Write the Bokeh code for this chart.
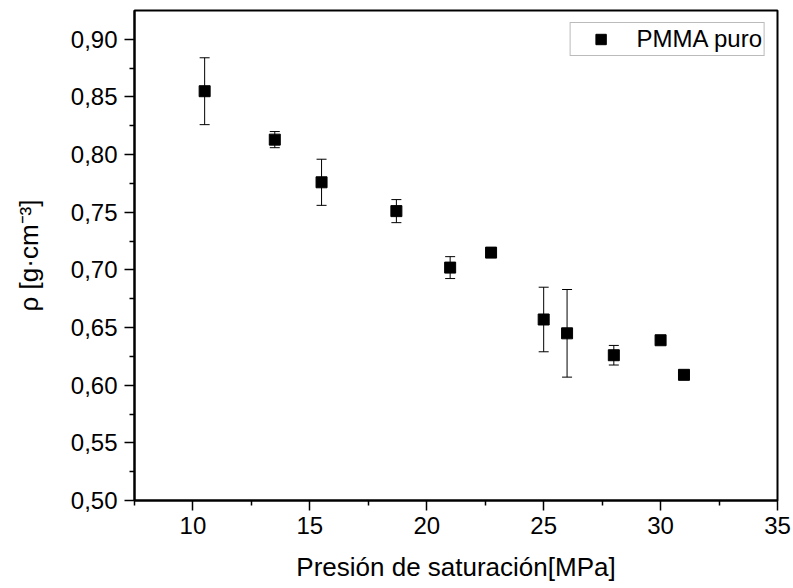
from bokeh.plotting import figure
from bokeh.models import (ColumnDataSource, Whisker, TeeHead, FixedTicker,
                          CustomJSTickFormatter, Legend)
from bokeh.embed import file_html
from bokeh.resources import INLINE

# ---- data ----
pressure = [10.5, 13.5, 15.5, 18.7, 21.0, 22.75, 25.0, 26.0, 28.0, 30.0, 31.0]
density = [0.855, 0.813, 0.776, 0.751, 0.702, 0.715, 0.657, 0.645, 0.626, 0.639, 0.609]
density_err = [0.029, 0.007, 0.020, 0.010, 0.0095, 0.0, 0.028, 0.038, 0.0085, 0.0, 0.0]

x_major = [10, 15, 20, 25, 30, 35]
x_minor = [7.5, 12.5, 17.5, 22.5, 27.5, 32.5]
y_major = [0.50, 0.55, 0.60, 0.65, 0.70, 0.75, 0.80, 0.85, 0.90]
y_minor = [0.525, 0.575, 0.625, 0.675, 0.725, 0.775, 0.825, 0.875]

series_label = "PMMA puro"
x_title = "Presión de saturación[MPa]"
y_title = "ρ [g·cm⁻³]"

FONT = "Liberation Sans"

src = ColumnDataSource(dict(
    x=pressure,
    y=density,
    upper=[d + e for d, e in zip(density, density_err)],
    lower=[d - e for d, e in zip(density, density_err)],
))

p = figure(width=793, height=588, x_range=(7.5, 35), y_range=(0.5, 0.925),
           output_backend="svg", toolbar_location=None,
           min_border_left=134, min_border_right=16,
           min_border_top=10, min_border_bottom=88)

p.background_fill_color = "white"
p.border_fill_color = "white"
p.outline_line_color = "black"
p.outline_line_width = 2
p.xgrid.visible = False
p.ygrid.visible = False

# axes
p.xaxis.ticker = FixedTicker(ticks=x_major, minor_ticks=x_minor)
p.yaxis.ticker = FixedTicker(ticks=y_major, minor_ticks=y_minor)
p.yaxis.formatter = CustomJSTickFormatter(code="return tick.toFixed(2).replace('.', ',')")

for ax in (p.xaxis, p.yaxis):
    ax.axis_line_color = "black"
    ax.axis_line_width = 2
    ax.major_tick_line_color = "black"
    ax.major_tick_line_width = 1.5
    ax.minor_tick_line_color = "black"
    ax.minor_tick_line_width = 1.5
    ax.major_tick_in = 0
    ax.major_tick_out = 10
    ax.minor_tick_in = 0
    ax.minor_tick_out = 5
    ax.major_label_text_font = FONT
    ax.major_label_text_font_size = "24px"
    ax.major_label_text_color = "black"
    ax.axis_label_text_font = FONT
    ax.axis_label_text_font_size = "26px"
    ax.axis_label_text_font_style = "normal"
    ax.axis_label_text_color = "black"

p.xaxis.axis_label = x_title
p.yaxis.axis_label = y_title
p.xaxis.major_label_standoff = 6
p.yaxis.major_label_standoff = 7
p.xaxis.axis_label_standoff = 15
p.yaxis.axis_label_standoff = 24

# error bars
whisker = Whisker(base="x", upper="upper", lower="lower", source=src,
                  line_color="black", line_width=1,
                  upper_head=TeeHead(size=10, line_color="black", line_width=1),
                  lower_head=TeeHead(size=10, line_color="black", line_width=1))
p.add_layout(whisker)

r = p.scatter("x", "y", source=src, marker="square", size=11,
              fill_color="black", line_color="black")

legend = Legend(items=[(series_label, [r])], location="top_right")
legend.label_text_font = FONT
legend.label_text_font_size = "24px"
legend.label_text_color = "black"
legend.border_line_color = "#777777"
legend.border_line_width = 1
legend.background_fill_color = "white"
legend.padding = 2
legend.spacing = 0
legend.margin = 12
legend.glyph_width = 56
legend.glyph_height = 26
legend.label_standoff = 8
p.add_layout(legend)

open("out.html", "w").write(file_html(p, INLINE))
